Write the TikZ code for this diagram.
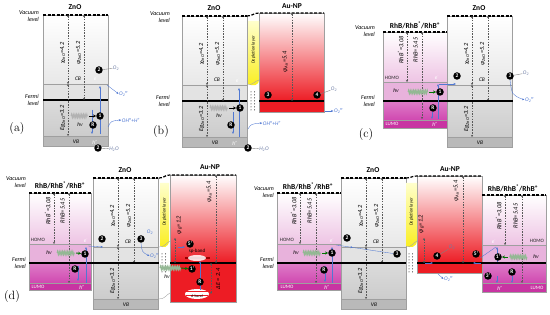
\documentclass[tikz,border=0pt]{standalone}
\usepackage{fontspec}
\usetikzlibrary{positioning,arrows.meta,decorations.pathmorphing}
\newfontfamily\labfont{Carlito}
\definecolor{aured}{RGB}{237,28,36}
\definecolor{eblue}{RGB}{80,120,210}
\definecolor{ogray}{RGB}{110,125,165}
\definecolor{rhbA}{RGB}{238,196,228}
\definecolor{rhbB}{RGB}{232,178,220}
\definecolor{rhbC}{RGB}{222,125,200}
\definecolor{rhbD}{RGB}{208,72,176}
\definecolor{rhbE}{RGB}{200,52,162}
\definecolor{depl}{RGB}{250,238,30}

\begin{document}
\begin{tikzpicture}[x=1pt,y=-1pt,
num/.style={circle,fill=black,text=white,inner sep=0pt,minimum size=7.5pt,
    font=\labfont\bfseries\fontsize{5.5}{6}\selectfont},
title/.style={font=\labfont\bfseries\fontsize{7.5}{8}\selectfont},
side/.style={font=\labfont\itshape\fontsize{6}{6.5}\selectfont,align=right,anchor=east,inner sep=0pt},
tag/.style={font=\labfont\itshape\fontsize{5.5}{6}\selectfont,inner sep=0.5pt},
val/.style={tag,rotate=90,font=\labfont\itshape\fontsize{6.3}{7}\selectfont},
meas/.style={black!65,line width=0.3pt,dash pattern=on 1.5pt off 1.2pt,
    {Stealth[length=2pt,width=2pt]}-{Stealth[length=2pt,width=2pt]}},
vac/.style={very thick,dash pattern=on 3pt off 1.5pt},
fermi/.style={very thick},
band/.style={gray!75,thin},
eline/.style={eblue,line width=0.35pt,-{Stealth[length=2.5pt,width=2pt]}},
photon/.style={gray!60,line width=0.8pt,decorate,decoration={snake,amplitude=2.2pt,segment length=1.7pt}},
gphoton/.style={photon,green!20!gray!70},
hit/.style={-{Stealth[length=3pt,width=3pt]},line width=0.9pt},
depletion/.style={top color=yellow!20,bottom color=depl},
panel/.style={font=\fontsize{12}{13}\selectfont}]
\useasboundingbox (0,0) rectangle (550,315);

% ZnO blocks, same in every panel
\foreach \n/\x/\y in {a/43/15,b/182/16,c/447/16,d/93/178,e/341/178}{
\begin{scope}[shift={(\x,\y)}]
  \shade[top color=white,bottom color=gray!18] (0,0) rectangle (65,69);
  \fill[gray!22] (0,69) rectangle (65,85);
  \shade[top color=gray!28,bottom color=gray!40] (0,85) rectangle (65,121);
  \fill[gray!55] (0,121) rectangle (65,131);
  \draw[band] (0,0) rectangle (65,131) (0,69) -- (65,69) (0,121) -- (65,121);
  \draw[vac] (0,0) -- (65,0);
  \draw[fermi] (0,85) -- (65,85);
  \node[title] (zno-\n) at (32,-8) {ZnO};
  \draw[meas] (25,0) -- (25,69);
  \draw[meas] (41,0) -- (41,85);
  \draw[meas] (25,69) -- (25,121);
  \node[val] (chi-\n) at (19.5,38) {χ\textsubscript{ZnO}=4.2};
  \node[val] (phi-\n) at (35.5,38) {φ\textsubscript{ZnO}=5.2};
  \node[val] (eg-\n) at (19.5,103) {Eg\textsubscript{ZnO}=3.2};
  \node[tag] (cb-\n) at (35,64) {CB};
  \node[tag] (vb-\n) at (33,127) {VB};
\end{scope}}

%% (a)
\node[side] (vac-a) at (39,16) {Vacuum\\level};
\node[side] (fer-a) at (39,100) {Fermi\\level};
\node[panel] (lab-a) at (17,129) {(a)};
\draw[eline] (100,134) -- (100,86);
\draw[eline] (92,110) -- (92,134);
\node[tag,text=white] (ea) at (96,79) {e\textsuperscript{-}};
\node[tag,text=white] (ha) at (95,142) {h\textsuperscript{+}};
\node[num] (a1) at (100,116) {1};
\node[num] (aR) at (93,125) {R};
\node[num] (a2t) at (99,70) {2};
\node[num] (a2b) at (98,148) {2};
\draw[photon] (71,116) -- (88,116);
\draw[hit] (89,116) -- (a1);
\node[tag] (hva) at (80,125) {hν};
\node[tag,text=ogray] (o2-a) at (116,68) {O\textsubscript{2}};
\draw[gray] (a2t) -- (o2-a);
\node[tag,text=eblue] (o2m-a) at (124,94) {O\textsubscript{2}\textsuperscript{•-}};
\draw[eline] (107,85) .. controls (112,88) .. (o2m-a.west);
\node[tag,text=eblue] (oh-a) at (131,120) {OH\textsuperscript{•}+H\textsuperscript{+}};
\draw[eline] (108,127) .. controls (111,121) .. (oh-a.west);
\node[tag,text=ogray] (h2o-a) at (114,149) {H\textsubscript{2}O};
\draw[gray] (a2b) -- (h2o-a);

%% (b)
\node[side] (vac-b) at (170,17) {Vacuum\\level};
\node[side] (fer-b) at (170,101) {Fermi\\level};
\node[panel] (lab-b) at (161,132) {(b)};
\shade[top color=white,bottom color=aured] (259,13) rectangle (324,101);
\fill[aured] (259,101) rectangle (324,112);
\draw[band] (259,13) rectangle (324,112);
\draw[fermi] (259,101) -- (324,101);
\draw[vac] (247,16) .. controls (253,16) and (253,13) .. (259,13) -- (324,13);
\shade[depletion] (248,21) -- (259,21) -- (259,79) .. controls (259,87) and (252,86) .. (248,84) -- cycle;
\node[val,font=\labfont\itshape\fontsize{4.5}{5}\selectfont] (dep-b) at (253.5,50) {Depletion layer};
\draw[gray!70] (247,85) .. controls (253,85) and (255,81) .. (259,80);
\foreach \yy in {92,95,...,110} \fill (251,\yy) circle (0.5) (254.5,\yy) circle (0.5);
\node[title] (au-b) at (292,6) {Au-NP};
\draw[meas] (292,13) -- (292,101);
\node[val] (phiau-b) at (285,62) {φ\textsubscript{Au}=5.4};
\draw[eline] (239,137) -- (239,88);
\draw[eline] (233,112) -- (233,134);
\node[tag,text=white] (eb) at (238,81) {e\textsuperscript{-}};
\node[tag,text=white] (hb) at (235,143) {h\textsuperscript{+}};
\node[num] (b1) at (240,108) {1};
\node[num] (bR) at (231,125) {R};
\node[num] (b2) at (248,148) {2};
\node[num] (b3) at (268,95) {3};
\node[num] (b4) at (317,95) {4};
\draw[photon] (210,108) -- (228,108);
\draw[hit] (229,108) -- (b1);
\node[tag] (hvb) at (219,116) {hν};
\node[tag,text=ogray] (o2-b) at (334,89) {O\textsubscript{2}};
\draw[gray] (b4) -- (o2-b);
\node[tag,text=eblue] (o2m-b) at (339,111) {O\textsubscript{2}\textsuperscript{•-}};
\draw[eline] (325,111) -- (o2m-b.west);
\node[tag,text=eblue] (oh-b) at (272,123) {OH\textsuperscript{•}+H\textsuperscript{+}};
\draw[eline] (248,129) .. controls (251,124) .. (oh-b.west);
\node[tag,text=ogray] (h2o-b) at (264,149) {H\textsubscript{2}O};
\draw[gray] (b2) -- (h2o-b);

%% (c)
\node[side] (vac-c) at (375,31) {Vacuum\\level};
\node[side] (fer-c) at (375,101) {Fermi\\level};
\node[panel] (lab-c) at (366,135) {(c)};
\shade[top color=white,bottom color=rhbA] (383,32) rectangle (447,82);
\fill[rhbB] (383,82) rectangle (447,101);
\shade[top color=rhbC,bottom color=rhbD] (383,101) rectangle (447,120);
\fill[rhbE] (383,120) rectangle (447,128);
\draw[band] (383,32) rectangle (447,128) (383,82) -- (447,82) (383,120) -- (447,120);
\draw[vac] (383,32) -- (447,32);
\draw[fermi] (383,101) -- (513,101);
\node[title] (rhb-c) at (415,25) {RhB/RhB\textsuperscript{*}/RhB\textsuperscript{+}};
\draw[meas] (407,32) -- (407,82);
\draw[meas] (422,32) -- (422,119);
\node[val] (rs-c) at (400.5,50) {RhB\textsuperscript{*}=3.08};
\node[val] (r-c) at (415.5,50) {RhB=5.45};
\node[tag,font=\labfont\fontsize{5}{6}\selectfont,text=gray!30!black] (homo-c) at (392,78) {HOMO};
\node[tag,font=\labfont\fontsize{5}{6}\selectfont,text=white] (lumo-c) at (392,124) {LUMO};
\draw[eline] (438,119) -- (438,84);
\draw[eline] (432,112) -- (432,119);
\draw[eline] (439,84) -- (456,84);
\node[tag,text=white] (ec) at (437,78) {e\textsuperscript{-}};
\node[tag,text=white] (hc) at (435,124) {h\textsuperscript{+}};
\node[num] (c1) at (440,92) {1};
\node[num] (cR) at (433,108) {R};
\node[num] (c2) at (457,76) {2};
\node[num] (c3) at (510,76) {3};
\draw[gphoton] (408,92) -- (428,92);
\draw[hit,green!45!black] (429,92) -- (c1);
\node[tag] (hvc) at (396,91) {hν};
\node[tag,text=ogray] (o2-c) at (526,73) {O\textsubscript{2}};
\draw[gray] (c3) -- (o2-c);
\node[tag,text=eblue] (o2m-c) at (530,100) {O\textsubscript{2}\textsuperscript{•-}};
\draw[eline] (c3.south) .. controls (512,95) .. (o2m-c.west);

%% (d)
\node[side] (vac-d) at (26,182) {Vacuum\\level};
\node[side] (fer-d) at (26,263) {Fermi\\level};
\node[panel] (lab-d) at (12,297) {(d)};
\shade[top color=white,bottom color=rhbA] (29,193) rectangle (91,244);
\fill[rhbB] (29,244) rectangle (91,263);
\shade[top color=rhbC,bottom color=rhbD] (29,263) rectangle (91,283);
\fill[rhbE] (29,283) rectangle (91,290);
\draw[band] (29,193) rectangle (91,290) (29,244) -- (91,244) (29,283) -- (91,283);
\draw[vac] (29,193) -- (91,193);
\node[title] (rhb-d) at (60,185) {RhB/RhB\textsuperscript{*}/RhB\textsuperscript{+}};
\draw[meas] (54,193) -- (54,244);
\draw[meas] (69,193) -- (69,283);
\node[val] (rs-d) at (47.5,211) {RhB\textsuperscript{*}=3.08};
\node[val] (r-d) at (62.5,211) {RhB=5.45};
\node[tag,font=\labfont\fontsize{5}{6}\selectfont,text=gray!30!black] (homo-d) at (38,240) {HOMO};
\node[tag,font=\labfont\fontsize{5}{6}\selectfont,text=white] (lumo-d) at (38,287) {LUMO};
\shade[top color=white,bottom color=aured] (170,175) rectangle (236,263);
\fill[aured] (170,263) rectangle (236,302);
\draw[band] (170,175) rectangle (236,302);
\draw[vac] (159,178) .. controls (165,178) and (164,175) .. (170,175) -- (236,175);
\draw[fermi] (29,263) -- (159,263) (170,263) -- (236,263);
\shade[depletion] (160,183) -- (169,183) -- (169,240) .. controls (169,248) and (163,248) .. (160,246) -- cycle;
\node[val,font=\labfont\itshape\fontsize{4.5}{5}\selectfont] (dep-d) at (164.5,212) {Depletion layer};
\draw[gray!70] (159,247) .. controls (165,247) and (166,243) .. (170,241);
\draw[gray!70] (159,299) .. controls (165,299) and (166,295) .. (170,293);
\foreach \yy in {254,257,...,272} \fill (162,\yy) circle (0.5) (165.5,\yy) circle (0.5);
\node[title] (au-d) at (210,167) {Au-NP};
\draw[meas] (216,175) -- (216,263);
\node[val] (phiau-d) at (209,192) {φ\textsubscript{Au}=5.4};
\draw[meas] (175,238) -- (175,263);
\node[val] (phib-d) at (179,225) {φ\textsubscript{B}=1.2};
\draw[meas] (211,263) -- (211,294);
\node[val] (de-d) at (218,279) {ΔE = 2.4};
\draw[red!60!black,line width=2.5pt] (185,258) -- (210,258);
\fill[white,opacity=0.85] (197,258) ellipse (9 and 3);
\node[tag,font=\labfont\fontsize{5}{6}\selectfont] (sp-d) at (197,251) {sp-band};
\fill[white] (197,294) ellipse (12 and 5);
\draw[aured,line width=1pt] (186,292) -- (208,292) (186,296) -- (208,296);
\node[tag,font=\labfont\fontsize{4}{5}\selectfont] (db-d) at (197,296.5) {d-band};
\draw[eline] (86,283) -- (86,247);
\draw[eline] (78,266) -- (78,281);
\draw[eline] (88,246) -- (103,247);
\node[tag,text=white] (ed) at (86,241) {e\textsuperscript{-}};
\node[tag,text=white] (hd) at (82,287) {h\textsuperscript{+}};
\draw[eline] (200,290) -- (200,261);
\draw[eline] (178,247) -- (185,247);
\node[num] (d1) at (85,254) {1};
\node[num] (dR) at (75,269) {R};
\node[num] (d2) at (102,239) {2};
\node[num] (d3) at (141,239) {3};
\node[num] (d5p) at (190,244) {5'};
\node[num] (d1p) at (192,269) {1'};
\node[num] (dRp) at (200,282) {R};
\draw[gphoton] (57,253) -- (75,253);
\draw[hit,green!45!black] (76,253) -- (d1);
\node[tag] (hvd) at (49,253) {hν};
\draw[gphoton] (160,268) -- (181,268);
\draw[hit,green!45!black] (181,268) -- (d1p);
\node[tag] (hvd2) at (167,277) {hν};
\node[tag,text=eblue] (o2-d) at (150,232) {O\textsubscript{2}};
\node[tag,text=eblue] (o2m-d) at (155,256) {O\textsubscript{2}\textsuperscript{•-}};
\draw[eline] (d3.south) .. controls (142,252) .. (o2m-d.west);

%% (e)
\node[side] (vac-e) at (274,192) {Vacuum\\level};
\node[side] (fer-e) at (274,263) {Fermi\\level};
\shade[top color=white,bottom color=rhbA] (277,193) rectangle (341,244);
\fill[rhbB] (277,244) rectangle (341,263);
\shade[top color=rhbC,bottom color=rhbD] (277,263) rectangle (341,283);
\fill[rhbE] (277,283) rectangle (341,290);
\draw[band] (277,193) rectangle (341,290) (277,244) -- (341,244) (277,283) -- (341,283);
\draw[vac] (277,193) -- (341,193);
\node[title] (rhb-e) at (308,186) {RhB/RhB\textsuperscript{*}/RhB\textsuperscript{+}};
\draw[meas] (300,193) -- (300,244);
\draw[meas] (316,193) -- (316,283);
\node[val] (rs-e) at (293.5,211) {RhB\textsuperscript{*}=3.08};
\node[val] (r-e) at (309.5,211) {RhB=5.45};
\node[tag,font=\labfont\fontsize{5}{6}\selectfont,text=gray!30!black] (homo-e) at (287,240) {HOMO};
\node[tag,font=\labfont\fontsize{5}{6}\selectfont,text=white] (lumo-e) at (287,287) {LUMO};
\shade[top color=white,bottom color=aured] (417,176) rectangle (482,263);
\fill[aured] (417,263) rectangle (482,273);
\draw[band] (417,176) rectangle (482,273);
\draw[vac] (406,178) .. controls (412,178) and (411,176) .. (417,176) -- (482,176);
\shade[top color=white,bottom color=rhbA] (482,195) rectangle (546,245);
\fill[rhbB] (482,245) rectangle (546,263);
\shade[top color=rhbC,bottom color=rhbD] (482,263) rectangle (546,283);
\fill[rhbE] (482,283) rectangle (546,292);
\draw[band] (482,195) rectangle (546,292) (482,245) -- (546,245) (482,283) -- (546,283);
\draw[vac] (482,195) -- (546,195);
\draw[fermi] (277,263) -- (406,263) (417,263) -- (546,263);
\shade[depletion] (406,183) -- (417,183) -- (417,240) .. controls (417,248) and (410,248) .. (406,246) -- cycle;
\node[val,font=\labfont\itshape\fontsize{4.5}{5}\selectfont] (dep-e) at (411.5,212) {Depletion layer};
\draw[gray!70] (406,247) .. controls (412,247) and (413,243) .. (417,241);
\foreach \yy in {254,257,...,272} \fill (409,\yy) circle (0.5) (412.5,\yy) circle (0.5);
\node[title] (au-e) at (450,169) {Au-NP};
\draw[meas] (463,176) -- (463,263);
\node[val] (phiau-e) at (456,191) {φ\textsubscript{Au}=5.4};
\draw[meas] (424,238) -- (424,263);
\node[val] (phib-e) at (421,224) {φ\textsubscript{B}=1.2};
\node[title] (rhb-e2) at (513,188) {RhB/RhB\textsuperscript{*}/RhB\textsuperscript{+}};
\draw[meas] (505,195) -- (505,245);
\draw[meas] (522,195) -- (522,283);
\node[val] (rs-e2) at (498.5,216) {RhB\textsuperscript{*}=3.08};
\node[val] (r-e2) at (515.5,216) {RhB=5.45};
\node[tag,font=\labfont\fontsize{5}{6}\selectfont,text=gray!30!black] (homo-e2) at (537,241) {HOMO};
\node[tag,font=\labfont\fontsize{5}{6}\selectfont,text=white] (lumo-e2) at (537,288) {LUMO};
\draw[eline] (332,283) -- (332,247);
\draw[eline] (325,266) -- (325,282);
\draw[eline] (336,245) -- (353,247.5);
\draw[eblue,line width=0.35pt] (353,247.5) -- (393,253.5);
\draw[eline] (425,263) -- (433,263);
\draw[eline] (481,263) -- (473,263);
\draw[eblue,line width=0.35pt] (480,258) -- (496,247);
\draw[eline] (497,262) -- (497,247);
\draw[eline] (497,276) -- (497,283);
\draw[eline] (512,276) -- (512,283);
\node[tag,text=white] (ee) at (332,241) {e\textsuperscript{-}};
\node[tag,text=white] (he) at (327,287) {h\textsuperscript{+}};
\node[tag,text=white] (ee2) at (494,242) {e\textsuperscript{-}};
\node[tag,text=white] (he2) at (500,288) {h\textsuperscript{+}};
\node[num] (e1) at (332,253) {1};
\node[num] (eR) at (324,270) {R};
\node[num] (e2) at (347,238) {2};
\node[num] (e3) at (397,254) {3};
\node[num] (e4) at (437,256) {4};
\node[num] (e5p) at (476,254) {5'};
\node[num] (e1p) at (498,257) {1'};
\node[num] (e3p) at (488,276) {3'};
\node[num] (eRp) at (512,272) {R};
\draw[gphoton] (303,253) -- (321,253);
\draw[hit,green!45!black] (322,253) -- (e1);
\node[tag] (hve) at (296,253) {hν};
\draw[gphoton] (527,257) -- (509,257);
\draw[hit,green!45!black] (508,257) -- (e1p);
\node[tag] (hve2) at (536,257) {hν};
\node[tag,text=ogray] (o2-e) at (452,247) {O\textsubscript{2}};
\draw[gray] (e4) -- (o2-e);
\node[tag,text=eblue] (o2m-e) at (449,279) {O\textsubscript{2}\textsuperscript{•-}};
\draw[eline] (438,274) -- (o2m-e.west);
\end{tikzpicture}
\end{document}
